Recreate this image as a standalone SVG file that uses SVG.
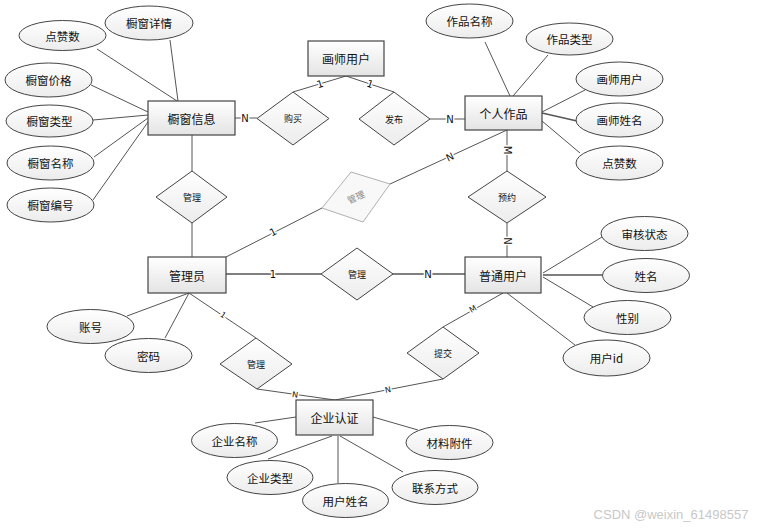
<svg xmlns="http://www.w3.org/2000/svg" width="768" height="528" viewBox="0 0 768 528">
<defs>
<linearGradient id="g" x1="0" y1="0" x2="0" y2="1">
<stop offset="0" stop-color="#ffffff"/>
<stop offset="1" stop-color="#e4e4e4"/>
</linearGradient>
<linearGradient id="g2" x1="0" y1="0" x2="0" y2="1">
<stop offset="0" stop-color="#ffffff"/>
<stop offset="1" stop-color="#ececec"/>
</linearGradient>
</defs>
<style>
text{font-family:"Microsoft YaHei","Noto Sans CJK SC",sans-serif;fill:#111;text-anchor:middle;dominant-baseline:central}
.ent rect{fill:url(#g);stroke:#444;stroke-width:1.2}
.att ellipse{fill:url(#g2);stroke:#444;stroke-width:1}
.rel polygon{fill:url(#g2);stroke:#444;stroke-width:1}
.et{font-size:12px}
.at{font-size:11.5px}
.rt{font-size:9px}
.conn line{stroke:#555;stroke-width:1}
.lb{font-family:"DejaVu Sans","Liberation Sans",sans-serif;font-size:10px;stroke:#fff;stroke-width:3;paint-order:stroke;fill:#111}
</style>
<rect width="768" height="528" fill="#fff"/>
<g id="connectors" class="conn">
<line x1="97" y1="49" x2="177" y2="101"/>
<line x1="170" y1="40" x2="178" y2="101"/>
<line x1="91" y1="85" x2="148" y2="112"/>
<line x1="93" y1="120" x2="148" y2="115"/>
<line x1="94" y1="157" x2="148" y2="118"/>
<line x1="93" y1="200" x2="148" y2="122"/>
<line x1="235" y1="118" x2="257" y2="118"/>
<line x1="192" y1="135" x2="192" y2="171"/>
<line x1="192" y1="223" x2="192" y2="257"/>
<line x1="346" y1="76" x2="293" y2="92"/>
<line x1="346" y1="76" x2="394" y2="92"/>
<line x1="430" y1="119" x2="465" y2="119"/>
<line x1="485" y1="42" x2="510" y2="96"/>
<line x1="548" y1="55" x2="513" y2="96"/>
<line x1="585" y1="90" x2="542" y2="112"/>
<line x1="542" y1="113" x2="577" y2="121" style="stroke-width:1.6"/>
<line x1="542" y1="121" x2="580" y2="153"/>
<line x1="507" y1="130" x2="507" y2="171"/>
<line x1="507" y1="223" x2="507" y2="257"/>
<line x1="226" y1="257" x2="322" y2="208"/>
<line x1="390" y1="184" x2="507" y2="130"/>
<line x1="226" y1="274" x2="321" y2="274" style="stroke-width:1.5"/>
<line x1="392" y1="274" x2="465" y2="274" style="stroke-width:1.5"/>
<line x1="602" y1="237" x2="543" y2="273"/>
<line x1="543" y1="275" x2="603" y2="275" style="stroke-width:1.5"/>
<line x1="543" y1="277" x2="593" y2="307"/>
<line x1="507" y1="293" x2="575" y2="345"/>
<line x1="503" y1="293" x2="443" y2="327"/>
<line x1="443" y1="379" x2="335" y2="400"/>
<line x1="189" y1="293" x2="127" y2="316"/>
<line x1="189" y1="293" x2="165" y2="338"/>
<line x1="189" y1="293" x2="256" y2="338"/>
<line x1="257" y1="389" x2="335" y2="400"/>
<line x1="255" y1="423" x2="296" y2="417"/>
<line x1="268" y1="459" x2="332" y2="436"/>
<line x1="338" y1="436" x2="338" y2="483"/>
<line x1="340" y1="436" x2="403" y2="472"/>
<line x1="373" y1="417" x2="418" y2="430"/>
<text class="lb" x="245" y="118">N</text>
<text class="lb" x="320" y="84" transform="rotate(-17 320 84)">1</text>
<text class="lb" x="370" y="84" transform="rotate(18 370 84)">1</text>
<text class="lb" x="450" y="119">N</text>
<text class="lb" x="507" y="150" transform="rotate(90 507 150)">M</text>
<text class="lb" x="507" y="241" transform="rotate(90 507 241)">N</text>
<text class="lb" x="273" y="232" transform="rotate(-27 273 232)">1</text>
<text class="lb" x="450" y="157" transform="rotate(-25 450 157)">N</text>
<text class="lb" x="273" y="274">1</text>
<text class="lb" x="428" y="274">N</text>
<text class="lb" x="473" y="309" transform="rotate(-30 473 309)" style="font-size:8px">M</text>
<text class="lb" x="223" y="315" transform="rotate(34 223 315)" style="font-size:8px">1</text>
<text class="lb" x="295" y="395" transform="rotate(8 295 395)" style="font-size:8px">N</text>
<text class="lb" x="388" y="390" transform="rotate(-11 388 390)" style="font-size:8px">N</text>
</g>
<g id="e-chuchuang" class="ent"><rect x="148" y="101" width="87" height="34"/><text class="et" x="191.5" y="118">橱窗信息</text></g>
<g id="e-huashi" class="ent"><rect x="308" y="41" width="76" height="35"/><text class="et" x="346" y="58.5">画师用户</text></g>
<g id="e-zuopin" class="ent"><rect x="465" y="96" width="77" height="34"/><text class="et" x="503.5" y="113">个人作品</text></g>
<g id="e-admin" class="ent"><rect x="148" y="257" width="78" height="36"/><text class="et" x="187" y="275">管理员</text></g>
<g id="e-user" class="ent"><rect x="465" y="257" width="76" height="36"/><text class="et" x="503" y="275">普通用户</text></g>
<g id="e-qiye" class="ent"><rect x="296" y="400" width="77" height="35"/><text class="et" x="334.5" y="417.5">企业认证</text></g>
<g id="a-dianzan1" class="att"><ellipse cx="62.5" cy="35.5" rx="43.5" ry="15"/><text class="at" x="62.5" y="35.5">点赞数</text></g>
<g id="a-xiangqing" class="att"><ellipse cx="149" cy="23" rx="44" ry="17"/><text class="at" x="149" y="23">橱窗详情</text></g>
<g id="a-jiage" class="att"><ellipse cx="48.5" cy="80" rx="43.5" ry="17"/><text class="at" x="48.5" y="80">橱窗价格</text></g>
<g id="a-leixing" class="att"><ellipse cx="49.5" cy="121" rx="43.5" ry="16"/><text class="at" x="49.5" y="121">橱窗类型</text></g>
<g id="a-mingcheng" class="att"><ellipse cx="50.5" cy="163" rx="43.5" ry="17"/><text class="at" x="50.5" y="163">橱窗名称</text></g>
<g id="a-bianhao" class="att"><ellipse cx="50.5" cy="205" rx="43.5" ry="17"/><text class="at" x="50.5" y="205">橱窗编号</text></g>
<g id="a-zpmc" class="att"><ellipse cx="469.5" cy="21" rx="43.5" ry="17"/><text class="at" x="469.5" y="21">作品名称</text></g>
<g id="a-zplx" class="att"><ellipse cx="569.5" cy="39" rx="43.5" ry="16"/><text class="at" x="569.5" y="39">作品类型</text></g>
<g id="a-hsyh" class="att"><ellipse cx="619.5" cy="79" rx="43.5" ry="17"/><text class="at" x="619.5" y="79">画师用户</text></g>
<g id="a-hsxm" class="att"><ellipse cx="619.5" cy="120" rx="43.5" ry="17"/><text class="at" x="619.5" y="120">画师姓名</text></g>
<g id="a-dianzan2" class="att"><ellipse cx="619.5" cy="163" rx="43.5" ry="17"/><text class="at" x="619.5" y="163">点赞数</text></g>
<g id="a-shenhe" class="att"><ellipse cx="644.5" cy="233.5" rx="43.5" ry="17"/><text class="at" x="644.5" y="233.5">审核状态</text></g>
<g id="a-xingming" class="att"><ellipse cx="646" cy="275.5" rx="43.5" ry="17"/><text class="at" x="646" y="275.5">姓名</text></g>
<g id="a-xingbie" class="att"><ellipse cx="627.5" cy="317.5" rx="43.5" ry="17"/><text class="at" x="627.5" y="317.5">性别</text></g>
<g id="a-yhid" class="att"><ellipse cx="606.5" cy="358" rx="43.5" ry="18"/><text class="at" x="606.5" y="358">用户id</text></g>
<g id="a-zhanghao" class="att"><ellipse cx="90.5" cy="326.5" rx="43.5" ry="17"/><text class="at" x="90.5" y="326.5">账号</text></g>
<g id="a-mima" class="att"><ellipse cx="148.5" cy="355.5" rx="43.5" ry="17"/><text class="at" x="148.5" y="355.5">密码</text></g>
<g id="a-qymc" class="att"><ellipse cx="234.5" cy="440.5" rx="43" ry="17"/><text class="at" x="234.5" y="440.5">企业名称</text></g>
<g id="a-qylx" class="att"><ellipse cx="270" cy="477.5" rx="43" ry="17"/><text class="at" x="270" y="477.5">企业类型</text></g>
<g id="a-yhxm" class="att"><ellipse cx="345.5" cy="500.5" rx="43" ry="17"/><text class="at" x="345.5" y="500.5">用户姓名</text></g>
<g id="a-lxfs" class="att"><ellipse cx="435" cy="487.5" rx="43" ry="17"/><text class="at" x="435" y="487.5">联系方式</text></g>
<g id="a-clfj" class="att"><ellipse cx="449.5" cy="442.5" rx="43.5" ry="17"/><text class="at" x="449.5" y="442.5">材料附件</text></g>
<g id="r-goumai" class="rel"><polygon points="293,92 329,118.5 293,145 257,118.5"/><text class="rt" x="293" y="118.5">购买</text></g>
<g id="r-fabu" class="rel"><polygon points="394,92 430,119 394,145 359,119"/><text class="rt" x="394" y="119">发布</text></g>
<g id="r-guanli1" class="rel"><polygon points="192,171 227,197 192,223 156,197"/><text class="rt" x="192" y="197">管理</text></g>
<g id="r-guanli2" class="rel"><polygon points="351,172 390,184 363,222 322,208" style="stroke:#b0b0b0;fill:#f8f8f8"/><text class="rt" x="356" y="197" transform="rotate(-25 356 197)" style="fill:#888">管理</text></g>
<g id="r-yuyue" class="rel"><polygon points="507,171 546,197 507,223 468,197"/><text class="rt" x="507" y="197">预约</text></g>
<g id="r-guanli3" class="rel"><polygon points="357,248 393,274 357,300 321,274"/><text class="rt" x="357" y="274">管理</text></g>
<g id="r-tijiao" class="rel"><polygon points="443,327 479,353 443,379 407,353"/><text class="rt" x="443" y="353">提交</text></g>
<g id="r-guanli4" class="rel"><polygon points="256,338 292,364 257,389 220,364"/><text class="rt" x="256" y="364">管理</text></g>
<text x="671" y="514" style="font-family:'Liberation Sans',sans-serif;font-size:13px;fill:#c8c8c8">CSDN @weixin_61498557</text>
</svg>
